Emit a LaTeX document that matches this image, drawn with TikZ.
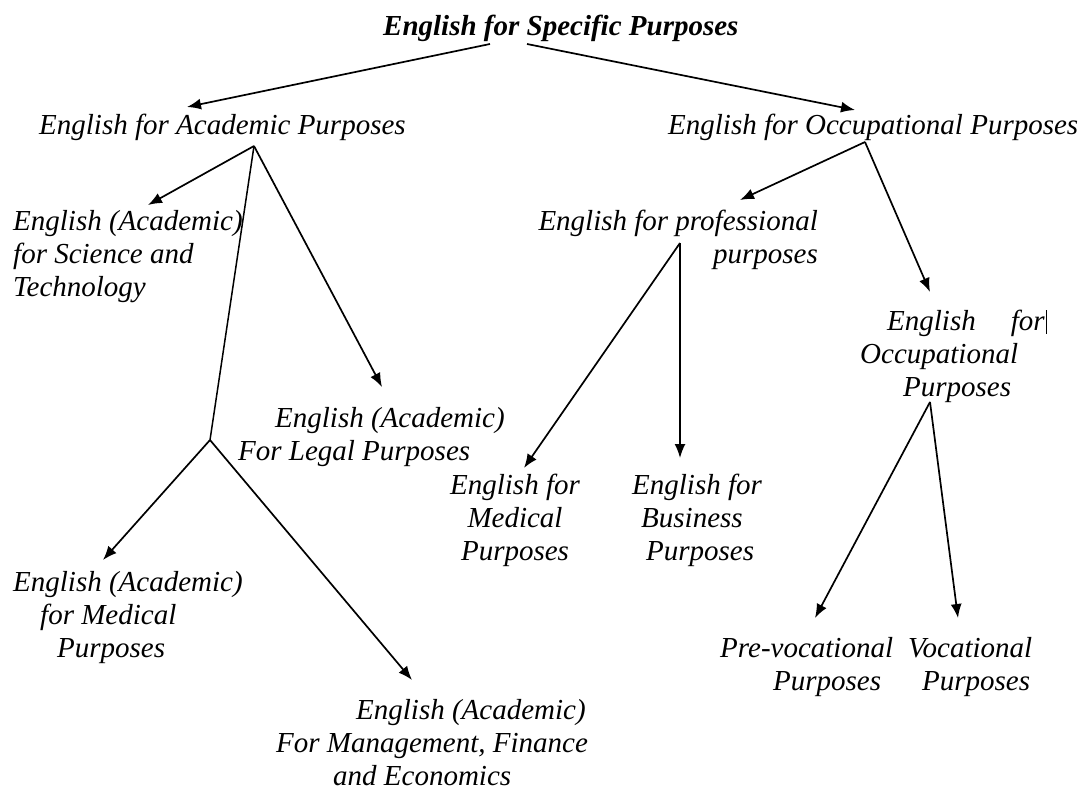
\documentclass[tikz,border=0pt]{standalone}
\usepackage{fontspec}
\setmainfont{Liberation Serif}
\usetikzlibrary{arrows.meta}
\begin{document}
\begin{tikzpicture}[x=1pt,y=-1pt,
  lbl/.style={inner sep=0pt, anchor=north west, align=left, font=\fontsize{29}{33}\selectfont\itshape},
  arr/.style={draw, line width=1.7pt, -{Latex[length=14pt,width=11pt]}},
  plain/.style={draw, line width=1.5pt}]
\useasboundingbox[fill=white] (0,0) rectangle (1083,789);
% nodes
\node[lbl, font=\fontsize{29}{33}\selectfont\bfseries\itshape] (esp) at (383,15) {English for Specific Purposes};
\node[lbl] (eap) at (39,114) {English for Academic Purposes};
\node[lbl] (eop) at (668,114) {English for Occupational Purposes};
\node[lbl] (sci) at (13,210) {English (Academic)\\for Science and\\Technology};
\node[lbl, anchor=north east, align=right] (prof) at (818,210) {English for professional\\purposes};
\node[lbl] (eocc) at (860,310) {\hspace*{27pt}English\hspace{35pt}for\\Occupational\\\hspace*{43pt}Purposes};
\node[lbl] (legal) at (238,407) {\hspace*{37pt}English (Academic)\\For Legal Purposes};
\node[lbl, anchor=north, align=center] (pmed) at (515,474) {English for\\Medical\\Purposes};
\node[lbl] (bus) at (632,474) {English for\\\hspace*{9pt}Business\\\hspace*{14pt}Purposes};
\node[lbl] (amed) at (13,571) {English (Academic)\\\hspace*{27pt}for Medical\\\hspace*{44pt}Purposes};
\node[lbl] (mgmt) at (276,699) {\hspace*{80pt}English (Academic)\\For Management, Finance\\\hspace*{57pt}and Economics};
\node[lbl] (prevoc) at (720,637) {Pre-vocational\\\hspace*{53pt}Purposes};
\node[lbl] (voc) at (908,637) {Vocational\\\hspace*{14pt}Purposes};
% cursor mark
\coordinate (curT) at (1046,310);
\coordinate (curB) at (1046,334);
\draw[line width=0.8pt] (curT) -- (curB);
% connector points
\coordinate (espL) at (490,44);
\coordinate (espR) at (527,44);
\coordinate (eapTip) at (187,107);
\coordinate (eopTip) at (855,110);
\coordinate (eapB) at (254,146);
\coordinate (sciTip) at (148,205);
\coordinate (legalTip) at (382,387);
\coordinate (junc) at (210,440);
\coordinate (amedTip) at (103,560);
\coordinate (mgmtTip) at (412,680);
\coordinate (eopB) at (865,142);
\coordinate (profTip) at (740,200);
\coordinate (eoccTip) at (930,292);
\coordinate (profB) at (680,243);
\coordinate (pmedTip) at (524,468);
\coordinate (busTip) at (680,458);
\coordinate (eoccB) at (930,402);
\coordinate (prevocTip) at (815,618);
\coordinate (vocTip) at (958,618);
% connectors
\draw[arr] (espL) -- (eapTip);
\draw[arr] (espR) -- (eopTip);
\draw[arr] (eapB) -- (sciTip);
\draw[arr] (eapB) -- (legalTip);
\draw[plain] (eapB) -- (junc);
\draw[arr] (junc) -- (amedTip);
\draw[arr] (junc) -- (mgmtTip);
\draw[arr] (eopB) -- (profTip);
\draw[arr] (eopB) -- (eoccTip);
\draw[arr] (profB) -- (pmedTip);
\draw[arr] (profB) -- (busTip);
\draw[arr] (eoccB) -- (prevocTip);
\draw[arr] (eoccB) -- (vocTip);
\end{tikzpicture}
\end{document}
